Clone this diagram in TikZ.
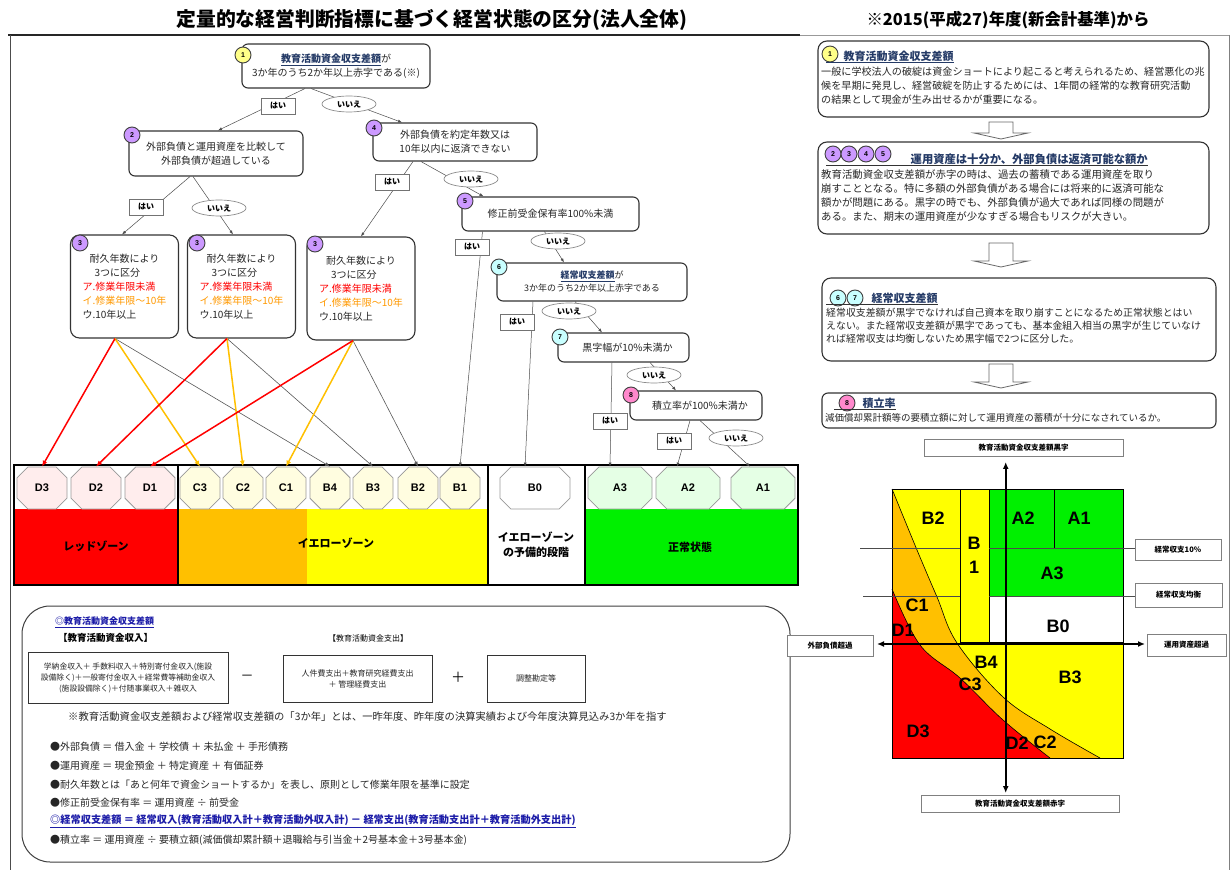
\documentclass[tikz,border=0pt]{standalone}
\usepackage{fontspec}
\setmainfont{Noto Sans CJK JP}
\newfontfamily\arialf{Liberation Sans}
\usetikzlibrary{shapes.misc,shapes.geometric,arrows.meta,calc}
\definecolor{zred}{HTML}{FF0000}
\definecolor{zorange}{HTML}{FFC000}
\definecolor{zyellow}{HTML}{FFFF00}
\definecolor{zgreen}{HTML}{00F000}
\definecolor{cpurple}{HTML}{CC99FF}
\definecolor{ccyan}{HTML}{C8FFFF}
\definecolor{cyel}{HTML}{FFFF88}
\definecolor{cpink}{HTML}{FF88CC}
\definecolor{navy}{HTML}{243A66}
\definecolor{tblue}{HTML}{1C1CA8}
\definecolor{torange}{HTML}{FF9900}
\definecolor{txt}{HTML}{262626}
\newcommand{\myfs}[2]{\fontsize{#1}{#2}\selectfont}
\newcommand{\hdn}[1]{\textbf{\color{navy}\underline{#1}}}
\begin{document}
\begin{tikzpicture}[x=1pt,y=-1pt,
 flow/.style={draw=black!80, line width=1.1pt, rounded corners=6pt, fill=white, inner sep=0pt, align=center, font=\myfs{10}{14}, text=txt},
 yesl/.style={draw=black!55, fill=white, line width=0.7pt, minimum width=34pt, minimum height=16pt, inner sep=0pt, font=\myfs{8}{8}\bfseries},
 nol/.style={ellipse, draw=black!45, fill=white, line width=0.7pt, minimum width=54pt, minimum height=16pt, inner sep=0pt, font=\myfs{8}{8}\bfseries},
 num/.style={circle, draw=black!75, line width=0.9pt, minimum size=16pt, inner sep=0pt, font=\arialf\myfs{7}{7}\bfseries},
 conn/.style={draw=black!70, line width=0.5pt, -{Latex[length=4pt,width=3pt]}},
 rarr/.style={draw=zred, line width=1.5pt, -{Latex[length=6pt,width=5pt]}},
 garr/.style={draw=zorange, line width=1.5pt, -{Latex[length=6pt,width=5pt]}},
 karr/.style={draw=black!65, line width=0.6pt, -{Latex[length=5pt,width=4pt]}},
 oct/.style={chamfered rectangle, chamfered rectangle sep=7pt, draw=black!40, line width=0.8pt, minimum height=42pt, inner sep=0pt, font=\arialf\bfseries\myfs{11}{11}},
 rbox/.style={draw=black!80, line width=1.1pt, rounded corners=9pt, fill=white},
 barr/.style={draw=black!60, line width=0.8pt, fill=white},
 slab/.style={draw=black!50, line width=0.6pt, fill=white, inner sep=0pt, font=\myfs{7.5}{7.5}\bfseries},
 clab/.style={font=\arialf\bfseries\myfs{18}{18}, inner sep=0pt},
 body/.style={anchor=west, font=\myfs{10.1}{14}, text=txt, inner sep=0pt},
 zlab/.style={font=\myfs{11}{15}\bfseries, align=center, inner sep=0pt},
 btxt/.style={anchor=west, font=\myfs{10}{14}, text=txt, inner sep=0pt},
 fbox/.style={draw=black!80, line width=0.8pt, fill=white, inner sep=0pt, align=center, font=\myfs{8}{11}, text=txt},
 axis/.style={line width=1.6pt, {Latex[length=7pt,width=6pt]}-{Latex[length=7pt,width=6pt]}},
]
\useasboundingbox (0,0) rectangle (1232,874);
\fill[white] (0,0) rectangle (1232,874);

% ---------- titles and frame ----------
\node[font=\myfs{19.8}{19.8}\bfseries] (title) at (432,20) {定量的な経営判断指標に基づく経営状態の区分(法人全体)};
\node[font=\myfs{16.4}{16.4}\bfseries] (title2) at (1008,20) {※2015(平成27)年度(新会計基準)から};
\draw[line width=2pt, black!85] (8,35) -- (800,35);
\draw[line width=0.8pt, black!40] (800,35) -- (1230,35);
\draw[line width=0.8pt, black!70] (10,35) -- (10,870);
\draw[line width=0.8pt, black!50] (1229,35) -- (1229,870);

% ---------- zone bands ----------
\fill[zred] (14,509) rectangle (178,585);
\fill[zorange] (178,509) rectangle (307,585);
\fill[zyellow] (307,509) rectangle (488,585);
\fill[zgreen] (585,509) rectangle (798,585);
\foreach \n/\x/\w/\c in {D3/42/50/red!7, D2/96/50/red!7, D1/150/50/red!7, C3/200/40/yellow!12, C2/243/40/yellow!12, C1/286/40/yellow!12, B4/330/40/yellow!12, B3/373/40/yellow!12, B2/418/40/yellow!12, B1/460/40/yellow!12, B0/535/70/white, A3/620/64/green!10, A2/688/64/green!10, A1/763/64/green!10}
  \node[oct, minimum width=\w pt, fill=\c] (\n) at (\x,488) {\n};
\draw[line width=1.3pt] (14,465) rectangle (798,585);
\draw[line width=1.3pt] (178,465) -- (178,585) (488,465) -- (488,585) (585,465) -- (585,585);
\node[zlab] (zr) at (96,546) {レッドゾーン};
\node[zlab] (zy) at (336,543) {イエローゾーン};
\node[zlab] (zw) at (536,545) {イエローゾーン\\の予備的段階};
\node[zlab] (zg) at (690,547) {正常状態};

% ---------- flow boxes ----------
\node[flow, minimum width=188pt, minimum height=44pt] (b1) at (336,66) {\hdn{教育活動資金収支差額}が\\3か年のうち2か年以上赤字である(※)};
\node[flow, minimum width=174pt, minimum height=45pt] (b2) at (216,153.5) {外部負債と運用資産を比較して\\外部負債が超過している};
\node[flow, minimum width=164pt, minimum height=38pt] (b4) at (455,142) {外部負債を約定年数又は\\10年以内に返済できない};
\foreach \n/\x/\y in {b3a/124.5/286.5, b3b/241.5/286.5, b3c/361/288.5}
  \node[flow, align=left, minimum width=108pt, minimum height=103pt, rounded corners=9pt] (\n) at (\x,\y) {\hspace*{7pt}耐久年数により\\\hspace*{12pt}3つに区分\\\textcolor{zred}{ア.修業年限未満}\\\textcolor{torange}{イ.修業年限～10年}\\ウ.10年以上};
\node[flow, minimum width=177pt, minimum height=34pt] (b5) at (550.5,214) {修正前受金保有率100\%未満};
\node[flow, minimum width=190pt, minimum height=38pt, font=\myfs{9}{13}] (b6) at (592,282) {\hdn{経常収支差額}が\\3か年のうち2か年以上赤字である};
\node[flow, minimum width=131pt, minimum height=29pt] (b7) at (623.5,347.5) {\hspace*{8pt}黒字幅が10\%未満か};
\node[flow, minimum width=132pt, minimum height=29pt] (b8) at (696,405.5) {\hspace*{8pt}積立率が100\%未満か};

% number circles
\node[num, fill=cyel] (n1) at (243,55) {1};
\node[num, fill=cpurple] (n2) at (132,135) {2};
\node[num, fill=cpurple] (n4) at (374,128) {4};
\node[num, fill=cpurple] (n3a) at (80,243) {3};
\node[num, fill=cpurple] (n3b) at (197,243) {3};
\node[num, fill=cpurple] (n3c) at (315,244) {3};
\node[num, fill=cpurple] (n5) at (465,201) {5};
\node[num, fill=ccyan] (n6) at (499,267) {6};
\node[num, fill=ccyan] (n7) at (560,337) {7};
\node[num, fill=cpink] (n8) at (631,395) {8};

% connectors
\draw[conn] ([xshift=-31pt]b1.south) -- ([xshift=2pt]b2.north);
\draw[conn] ([xshift=-25pt]b1.south) -- ([xshift=-53pt]b4.north);
\draw[conn] ([xshift=-26pt]b2.south) -- ([xshift=-2.5pt]b3a.north);
\draw[conn] ([xshift=-23pt]b2.south) -- ([xshift=-8.5pt]b3b.north);
\draw[conn] ([xshift=-42pt]b4.south) -- (b3c.north);
\draw[conn] ([xshift=-34pt]b4.south) -- ([xshift=-67pt]b5.north);
\draw[conn] ([xshift=-68pt]b5.south) -- (B1.north);
\draw[conn] ([xshift=-6pt]b5.south) -- ([xshift=-28pt]b6.north);
\draw[conn] ([xshift=-59pt]b6.south) -- ([xshift=-10pt]B0.north);
\draw[conn] ([xshift=-17pt]b6.south) -- ([xshift=-21.5pt]b7.north);
\draw[conn] ([xshift=-11.5pt]b7.south) -- ([xshift=-10pt]A3.north);
\draw[conn] ([xshift=26.5pt]b7.south) -- ([xshift=-20pt]b8.north);
\draw[conn] ([xshift=-6pt]b8.south) -- ([xshift=-11pt]A2.north);
\draw[conn] ([xshift=4pt]b8.south) -- ([xshift=-13pt]A1.north);

% zone arrows from boxes 3
\draw[karr] ([xshift=-9.5pt]b3a.south) -- (B4.north);
\draw[karr] ([xshift=-14.5pt]b3b.south) -- (B3.north);
\draw[karr] ([xshift=-8pt]b3c.south) -- (B2.north);
\draw[garr] ([xshift=-9.5pt]b3a.south) -- (C3.north);
\draw[garr] ([xshift=-14.5pt]b3b.south) -- (C2.north);
\draw[garr] ([xshift=-8pt]b3c.south) -- (C1.north);
\draw[rarr] ([xshift=-9.5pt]b3a.south) -- (D3.north);
\draw[rarr] ([xshift=-14.5pt]b3b.south) -- (D2.north);
\draw[rarr] ([xshift=-8pt]b3c.south) -- (D1.north);

% yes / no labels
\node[yesl] (y1) at (278,106) {はい};
\node[nol] (o1) at (349,104) {いいえ};
\node[yesl] (y2) at (146,207) {はい};
\node[nol] (o2) at (219,208) {いいえ};
\node[yesl] (y4) at (392,182) {はい};
\node[nol] (o4) at (471,179) {いいえ};
\node[yesl] (y5) at (472,247) {はい};
\node[nol] (o5) at (558,241) {いいえ};
\node[yesl] (y6) at (517,322) {はい};
\node[nol] (o6) at (569,311) {いいえ};
\node[yesl] (y7) at (610,421) {はい};
\node[nol] (o7) at (654,375) {いいえ};
\node[yesl] (y8) at (674,441) {はい};
\node[nol] (o8) at (736,438) {いいえ};

% ---------- bottom box ----------
\draw[draw=black!75, line width=1pt, rounded corners=28pt] (22,606) rectangle (790,862);
\node[anchor=west, inner sep=0pt, font=\myfs{9}{9}\bfseries, text=tblue] (eh) at (55,622) {\underline{◎教育活動資金収支差額}};
\node[anchor=west, inner sep=0pt, font=\myfs{9.5}{9.5}\bfseries] (inh) at (58,638) {【教育活動資金収入】};
\node[inner sep=0pt, font=\myfs{8}{8}] (outh) at (368,638) {【教育活動資金支出】};
\node[fbox, minimum width=200pt, minimum height=51pt, font=\myfs{7.8}{11}] (fa) at (128,677.5) {学納金収入＋ 手数料収入＋特別寄付金収入(施設\\設備除く)＋一般寄付金収入＋経常費等補助金収入\\(施設設備除く)＋付随事業収入＋雑収入};
\node[font=\myfs{13}{13}] (mi) at (247,678) {－};
\node[fbox, minimum width=149pt, minimum height=47pt] (fb) at (357.5,678.5) {人件費支出＋教育研究経費支出\\＋ 管理経費支出};
\node[font=\myfs{14}{14}] (pl) at (458,677) {＋};
\node[fbox, minimum width=98pt, minimum height=47pt] (fc) at (536,678.5) {調整勘定等};
\node[btxt, font=\myfs{10.3}{14}] (note) at (68,717) {※教育活動資金収支差額および経常収支差額の「3か年」とは、一昨年度、昨年度の決算実績および今年度決算見込み3か年を指す};
\node[btxt] (bl1) at (50,747) {●外部負債 ＝ 借入金 ＋ 学校債 ＋ 未払金 ＋ 手形債務};
\node[btxt] (bl2) at (50,766) {●運用資産 ＝ 現金預金 ＋ 特定資産 ＋ 有価証券};
\node[btxt] (bl3) at (50,785) {●耐久年数とは「あと何年で資金ショートするか」を表し、原則として修業年限を基準に設定};
\node[btxt] (bl4) at (50,803) {●修正前受金保有率 ＝ 運用資産 ÷ 前受金};
\node[btxt, font=\myfs{10.2}{14}\bfseries, text=tblue] (bl5) at (50,821) {\underline{◎経常収支差額 ＝ 経常収入(教育活動収入計＋教育活動外収入計) － 経常支出(教育活動支出計＋教育活動外支出計)}};
\node[btxt] (bl6) at (50,840) {●積立率 ＝ 運用資産 ÷ 要積立額(減価償却累計額＋退職給与引当金＋2号基本金＋3号基本金)};

% ---------- right panel boxes ----------
\node[rbox, minimum width=391pt, minimum height=76pt] (r1) at (1013.5,79) {};
\node[rbox, minimum width=391pt, minimum height=92pt] (r2) at (1013.5,188) {};
\node[rbox, minimum width=394pt, minimum height=83pt] (r3) at (1019,319.5) {};
\node[rbox, minimum width=394pt, minimum height=35pt, rounded corners=6pt] (r4) at (1019,410.5) {};

\node[num, fill=cyel] (m1) at (830,54) {1};
\node[anchor=west, inner sep=0.5pt, font=\myfs{11}{11}\bfseries, text=navy] (h1) at (843,56) {教育活動資金収支差額};
\draw[navy, line width=0.8pt] ([xshift=-17pt]h1.south west) -- (h1.south east);
\node[body] (r1a) at (821,72) {一般に学校法人の破綻は資金ショートにより起こると考えられるため、経営悪化の兆};
\node[body] (r1b) at (821,86) {候を早期に発見し、経営破綻を防止するためには、1年間の経常的な教育研究活動};
\node[body] (r1c) at (821,100) {の結果として現金が生み出せるかが重要になる。};

\node[num, fill=cpurple] (m2) at (833,154) {2};
\node[num, fill=cpurple] (m3) at (849,154) {3};
\node[num, fill=cpurple] (m4) at (866,154) {4};
\node[num, fill=cpurple] (m5) at (883,154) {5};
\node[anchor=west, inner sep=0.5pt, font=\myfs{11.3}{11.3}\bfseries, text=navy] (h2) at (910,159) {運用資産は十分か、外部負債は返済可能な額か};
\draw[black!80, line width=0.8pt] ([xshift=-84pt]h2.south west) -- (h2.south east);
\node[body, font=\myfs{10.4}{14}] (r2a) at (821,175) {教育活動資金収支差額が赤字の時は、過去の蓄積である運用資産を取り};
\node[body, font=\myfs{10.4}{14}] (r2b) at (821,189) {崩すこととなる。特に多額の外部負債がある場合には将来的に返済可能な};
\node[body, font=\myfs{10.4}{14}] (r2c) at (821,203) {額かが問題にある。黒字の時でも、外部負債が過大であれば同様の問題が};
\node[body, font=\myfs{10.4}{14}] (r2d) at (821,217) {ある。また、期末の運用資産が少なすぎる場合もリスクが大きい。};

\node[num, fill=ccyan] (m6) at (838,298) {6};
\node[num, fill=ccyan] (m7) at (855,298) {7};
\node[anchor=west, inner sep=0.5pt, font=\myfs{11}{11}\bfseries, text=navy] (h3) at (871,298) {経常収支差額};
\draw[black!80, line width=0.8pt] ([xshift=-45pt]h3.south west) -- (h3.south east);
\node[body, font=\myfs{9.9}{14}] (r3a) at (826,313) {経常収支差額が黒字でなければ自己資本を取り崩すことになるため正常状態とはい};
\node[body, font=\myfs{9.9}{14}] (r3b) at (826,326) {えない。また経常収支差額が黒字であっても、基本金組入相当の黒字が生じていなけ};
\node[body, font=\myfs{9.9}{14}] (r3c) at (826,339) {れば経常収支は均衡しないため黒字幅で2つに区分した。};

\node[num, fill=cpink] (m8) at (847,403) {8};
\node[anchor=west, inner sep=0.5pt, font=\myfs{11}{11}\bfseries, text=navy] (h4) at (862,403) {積立率};
\draw[black!80, line width=0.8pt] ([xshift=-28pt]h4.south west) -- (h4.south east);
\node[body, font=\myfs{9.5}{12}] (r4a) at (825,418) {減価償却累計額等の要積立額に対して運用資産の蓄積が十分になされているか。};

% block arrows
\filldraw[barr] (989,122) -- (1013,122) -- (1013,133) -- (1028,133) -- (1001,139) -- (974,133) -- (989,133) -- cycle;
\filldraw[barr] (989,243) -- (1013,243) -- (1013,261) -- (1028,261) -- (1001,267) -- (974,261) -- (989,261) -- cycle;
\filldraw[barr] (989,364) -- (1013,364) -- (1013,382) -- (1028,382) -- (1001,388) -- (974,382) -- (989,382) -- cycle;

% ---------- right chart ----------
\fill[zyellow] (892,489) rectangle (1123,758);
\fill[zorange] plot[smooth, tension=0.6] coordinates {(892,489) (917,550) (937,597) (957,643) (1003,697) (1050,729) (1100,758)} -- (892,758) -- cycle;
\fill[zred] plot[smooth, tension=0.6] coordinates {(892,589) (920,645) (960,678) (1003,720) (1050,758)} -- (892,758) -- cycle;
\draw[line width=0.6pt] plot[smooth, tension=0.6] coordinates {(892,489) (917,550) (937,597) (957,643) (1003,697) (1050,729) (1100,758)};
\draw[line width=0.6pt] plot[smooth, tension=0.6] coordinates {(892,589) (920,645) (960,678) (1003,720) (1050,758)};
\filldraw[fill=zyellow, draw=black, line width=0.6pt] (960,489) rectangle (989,642);
\filldraw[fill=zgreen, draw=black, line width=0.6pt] (989,489) rectangle (1123,596);
\filldraw[fill=white, draw=black, line width=0.6pt] (989,596) rectangle (1123,642);
\draw[line width=0.6pt] (1054,489) -- (1054,548);
\draw[line width=0.6pt] (892,489) rectangle (1123,758);
\draw[line width=0.5pt, black!70] (860,548) -- (960,548) (989,548) -- (1135,548);
\draw[line width=0.5pt, black!70] (863,596) -- (960,596) (989,596) -- (1135,596);

\node[clab] (cB2) at (933,518) {B2};
\node[clab] (cB1a) at (974,543) {B};
\node[clab] (cB1b) at (974,567) {1};
\node[clab] (cA2) at (1023,518) {A2};
\node[clab] (cA1) at (1079,518) {A1};
\node[clab] (cA3) at (1052,573) {A3};
\node[clab] (cB0) at (1058,626) {B0};
\node[clab] (cC1) at (917,605) {C1};
\node[clab] (cD1) at (903,630) {D1};
\node[clab] (cB4) at (986,662) {B4};
\node[clab] (cB3) at (1070,677) {B3};
\node[clab] (cC3) at (970,684) {C3};
\node[clab] (cD3) at (918,731) {D3};
\node[clab] (cD2) at (1017,743) {D2};
\node[clab] (cC2) at (1045,742) {C2};

\node[slab, minimum width=199pt, minimum height=17pt] (lt) at (1023.5,447.5) {教育活動資金収支差額黒字};
\node[slab, minimum width=198pt, minimum height=17pt] (lb) at (1020,803.5) {教育活動資金収支差額赤字};
\node[slab, minimum width=86pt, minimum height=21pt] (ll) at (830,645.5) {外部負債超過};
\node[slab, minimum width=79pt, minimum height=22pt] (lr) at (1186.5,645) {運用資産超過};
\node[slab, minimum width=86pt, minimum height=21pt] (l10) at (1178,549.5) {経常収支10\%};
\node[slab, minimum width=87pt, minimum height=24pt] (lbal) at (1178.5,595) {経常収支均衡};
\coordinate (vtop) at (1005.7,462);
\coordinate (vbot) at (1005.7,793);
\coordinate (hl) at (877,644);
\coordinate (hr) at (1145,644);
\draw[axis] (vtop) -- (vbot);
\draw[axis] (hl) -- (hr);
\end{tikzpicture}
\end{document}
